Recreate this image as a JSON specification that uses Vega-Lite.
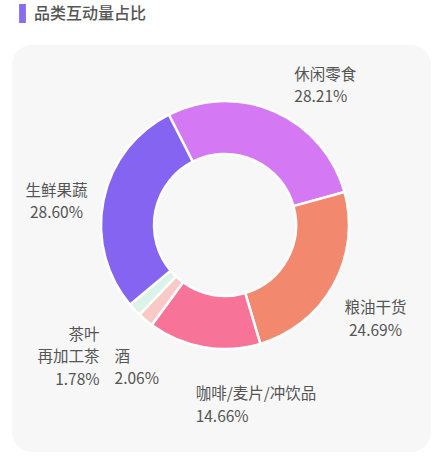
{
  "$schema": "https://vega.github.io/schema/vega-lite/v6.json",
  "width": 419,
  "height": 407,
  "autosize": {"type": "none"},
  "padding": {"left": 12, "top": 45, "right": 4, "bottom": 10},
  "background": "white",
  "view": {"fill": "#f7f7f7", "stroke": null, "cornerRadius": 20},
  "config": {"view": {"fill": "#f7f7f7", "stroke": null, "cornerRadius": 20}},
  "data": {
    "values": [
      {"i": 1, "name": "休闲零食", "value": 28.21, "label": "休闲零食\n28.21%"},
      {"i": 2, "name": "粮油干货", "value": 24.69, "label": "粮油干货\n24.69%"},
      {"i": 3, "name": "咖啡/麦片/冲饮品", "value": 14.66, "label": "咖啡/麦片/冲饮品\n14.66%"},
      {"i": 4, "name": "酒", "value": 2.06, "label": "酒\n2.06%"},
      {"i": 5, "name": "茶叶再加工茶", "value": 1.78, "label": "茶叶\n再加工茶\n1.78%"},
      {"i": 6, "name": "生鲜果蔬", "value": 28.60, "label": "生鲜果蔬\n28.60%"}
    ]
  },
  "encoding": {
    "theta": {"field": "value", "type": "quantitative", "stack": true, "scale": {"range": [-0.4712, 5.812]}},
    "order": {"field": "i", "type": "quantitative"}
  },
  "layer": [
    {
      "mark": {"type": "arc", "innerRadius": 71, "outerRadius": 124, "stroke": "white", "strokeWidth": 2.5, "x": 213, "y": 180},
      "encoding": {
        "color": {
          "field": "name",
          "type": "nominal",
          "scale": {
            "domain": ["休闲零食", "粮油干货", "咖啡/麦片/冲饮品", "酒", "茶叶再加工茶", "生鲜果蔬"],
            "range": ["#d479f3", "#f2896f", "#f77398", "#f9cac5", "#dcf3ea", "#8464f1"]
          },
          "legend": null
        }
      }
    },
    {
      "mark": {
        "type": "text", "radius": 172, "x": 213, "y": 180,
        "font": "Noto Sans CJK SC", "fontSize": 15.5, "lineHeight": 22.5, "lineBreak": "\n",
        "fill": "#555555",
        "align": {"expr": "datum.name === '茶叶再加工茶' ? 'right' : (datum.name === '酒' || datum.name === '休闲零食' || datum.name === '咖啡/麦片/冲饮品' ? 'left' : 'center')"},
        "baseline": {"expr": "datum.name === '茶叶再加工茶' ? 'bottom' : (datum.name === '休闲零食' ? 'top' : 'middle')"}
      },
      "encoding": {
        "text": {"field": "label"}
      }
    },
    {
      "mark": {"type": "text", "text": "", "x": 213, "y": 180},
      "encoding": {
        "fill": {
          "datum": "品类互动量占比",
          "type": "nominal",
          "scale": {"range": ["#8a6cf0"]},
          "legend": {
            "orient": "none",
            "legendX": 1,
            "legendY": -41,
            "title": null,
            "padding": 0,
            "symbolType": "M-0.36,-1H0.36V1H-0.36Z",
            "symbolSize": 361,
            "symbolStrokeWidth": 0,
            "symbolOpacity": 1,
            "labelOffset": 2,
            "labelFont": "Noto Sans CJK SC",
            "labelFontSize": 16,
            "labelFontWeight": 500,
            "labelColor": "#555555",
            "labelLimit": 300
          }
        }
      }
    }
  ]
}
